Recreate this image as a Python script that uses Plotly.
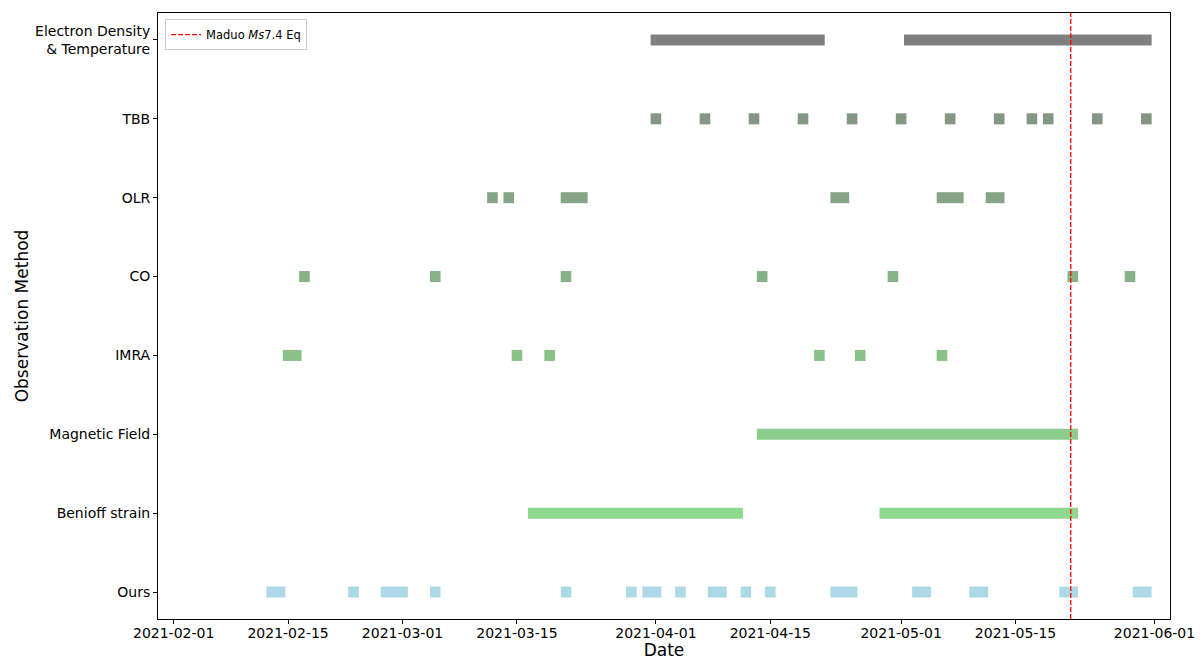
import pandas as pd
import plotly.graph_objects as go

methods = ["Ours", "Benioff strain", "Magnetic Field", "IMRA", "CO", "OLR", "TBB",
           "Electron Density<br>& Temperature"]

# anomaly intervals (start, end) for each method
ours = [("2021-02-13", "2021-02-14"), ("2021-02-23", "2021-02-23"), ("2021-02-27", "2021-03-01"),
        ("2021-03-05", "2021-03-05"), ("2021-03-21", "2021-03-21"), ("2021-03-29", "2021-03-29"),
        ("2021-03-31", "2021-04-01"), ("2021-04-04", "2021-04-04"), ("2021-04-08", "2021-04-09"),
        ("2021-04-12", "2021-04-12"), ("2021-04-15", "2021-04-15"), ("2021-04-23", "2021-04-25"),
        ("2021-05-03", "2021-05-04"), ("2021-05-10", "2021-05-11"), ("2021-05-21", "2021-05-22"),
        ("2021-05-30", "2021-05-31")]
benioff = [("2021-03-17", "2021-04-11"), ("2021-04-29", "2021-05-22")]
magnetic = [("2021-04-14", "2021-05-22")]
imra = [("2021-02-15", "2021-02-16"), ("2021-03-15", "2021-03-15"), ("2021-03-19", "2021-03-19"),
        ("2021-04-21", "2021-04-21"), ("2021-04-26", "2021-04-26"), ("2021-05-06", "2021-05-06")]
co = [("2021-02-17", "2021-02-17"), ("2021-03-05", "2021-03-05"), ("2021-03-21", "2021-03-21"),
      ("2021-04-14", "2021-04-14"), ("2021-04-30", "2021-04-30"), ("2021-05-22", "2021-05-22"),
      ("2021-05-29", "2021-05-29")]
olr = [("2021-03-12", "2021-03-12"), ("2021-03-14", "2021-03-14"), ("2021-03-21", "2021-03-23"),
       ("2021-04-23", "2021-04-24"), ("2021-05-06", "2021-05-08"), ("2021-05-12", "2021-05-13")]
tbb = [(d, d) for d in ["2021-04-01", "2021-04-07", "2021-04-13", "2021-04-19", "2021-04-25",
                        "2021-05-01", "2021-05-07", "2021-05-13", "2021-05-17", "2021-05-19",
                        "2021-05-25", "2021-05-31"]]
electron = [("2021-04-01", "2021-04-21"), ("2021-05-02", "2021-05-31")]

series = [ours, benioff, magnetic, imra, co, olr, tbb, electron]
colors = ["#add8e6", "#8ed98e", "#8ccd8c", "#89c189", "#87b287", "#86a586", "#849684", "#808080"]

eq_time = "2021-05-21 18:04"
x_ticks = ["2021-02-01", "2021-02-15", "2021-03-01", "2021-03-15", "2021-04-01",
           "2021-04-15", "2021-05-01", "2021-05-15", "2021-06-01"]

pad = pd.Timedelta(hours=15.6)
fig = go.Figure()
for i, (segs, col) in enumerate(zip(series, colors)):
    starts = [pd.Timestamp(s) - pad for s, e in segs]
    durs = [((pd.Timestamp(e) + pad) - (pd.Timestamp(s) - pad)).total_seconds() * 1000 for s, e in segs]
    fig.add_trace(go.Bar(
        y=[i] * len(segs), base=starts, x=durs, orientation="h",
        width=0.14, marker=dict(color=col, line=dict(width=0)),
        showlegend=False, hoverinfo="skip"))

fig.add_trace(go.Scatter(
    x=[eq_time, eq_time], y=[-0.342, 7.342], mode="lines",
    line=dict(color="red", width=1.3, dash="5px,2px"),
    name="Maduo <i>Ms</i>7.4 Eq"))

axis_font = dict(family="DejaVu Sans", size=14, color="black")
fig.update_layout(
    width=1188, height=652,
    margin=dict(l=150, r=26, t=5, b=41, autoexpand=False),
    paper_bgcolor="white", plot_bgcolor="white",
    barmode="overlay",
    font=dict(family="DejaVu Sans", size=14, color="black"),
    legend=dict(x=0.007, y=0.99, xanchor="left", yanchor="top",
                bgcolor="rgba(255,255,255,0.8)", bordercolor="#cccccc", borderwidth=1,
                font=dict(family="DejaVu Sans", size=11.5, color="black"),
                itemwidth=30, tracegroupgap=0),
    xaxis=dict(type="date", range=["2021-01-30 02:00", "2021-06-02 21:30"],
               tickvals=x_ticks, ticktext=x_ticks,
               showgrid=False, zeroline=False, automargin=False,
               showline=True, linecolor="black", linewidth=1, mirror=True,
               ticks="outside", ticklen=4, tickcolor="black",
               tickfont=axis_font, ticklabelstandoff=-3,
               title=dict(text="Date", font=dict(family="DejaVu Sans", size=17, color="black"),
                          standoff=4)),
    yaxis=dict(range=[-0.342, 7.342], tickvals=list(range(len(methods))), ticktext=methods,
               showgrid=False, zeroline=False, automargin=False,
               showline=True, linecolor="black", linewidth=1, mirror=True,
               ticks="outside", ticklen=4, tickcolor="black",
               tickfont=axis_font,
               title=dict(text="Observation Method",
                          font=dict(family="DejaVu Sans", size=17, color="black"),
                          standoff=2)),
)

fig.write_html("out.html")
